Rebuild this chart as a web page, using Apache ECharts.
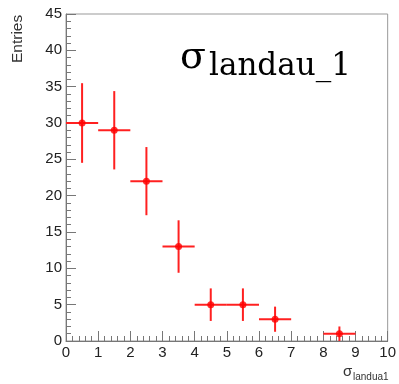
<!DOCTYPE html>
<html><head><meta charset="utf-8">
<script src="https://cdn.jsdelivr.net/npm/echarts@6/dist/echarts.min.js"></script>
<style>html,body{margin:0;padding:0;background:#fff}#c{width:399px;height:384px}</style>
</head><body><div id="c"></div>
<script>
const binCenters = [0.5, 1.5, 2.5, 3.5, 4.5, 5.5, 6.5, 8.5];
const binHalfWidth = [0.5, 0.5, 0.5, 0.5, 0.5, 0.5, 0.5, 0.5];
const counts = [30, 29, 22, 13, 5, 5, 3, 1];
const errors = [5.48, 5.39, 4.69, 3.61, 2.24, 2.24, 1.73, 1.0];

const chart = echarts.init(document.getElementById('c'));
const errData = binCenters.map((x, i) => [x, counts[i], binHalfWidth[i], errors[i]]);
const tickFont = 'Liberation Sans, Arial, sans-serif';
chart.setOption({
  animation: false,
  grid: {left: 66, right: 9, top: 14, bottom: 43, show: true, borderColor: '#999', borderWidth: 1, backgroundColor: 'transparent'},
  xAxis: {
    type: 'value', min: 0, max: 10, interval: 1,
    axisLine: {onZero: false, lineStyle: {color: '#777', width: 1}},
    axisTick: {inside: true, length: 10, lineStyle: {color: '#777'}},
    minorTick: {show: true, splitNumber: 5, length: 5, lineStyle: {color: '#777'}},
    splitLine: {show: false},
    axisLabel: {color: '#222', fontSize: 15, fontFamily: tickFont, margin: 4, showMinLabel: true, showMaxLabel: true}
  },
  yAxis: {
    type: 'value', min: 0, max: 45, interval: 5,
    axisLine: {show: true, lineStyle: {color: '#777', width: 1}},
    axisTick: {inside: true, length: 10, lineStyle: {color: '#777'}},
    minorTick: {show: true, splitNumber: 5, length: 5, lineStyle: {color: '#777'}},
    splitLine: {show: false},
    axisLabel: {color: '#222', fontSize: 15, fontFamily: tickFont, margin: 4}
  },
  graphic: [
    {type: 'text', rotation: Math.PI / 2, style: {text: 'Entries', fontSize: 15.5, fontFamily: tickFont, fill: '#333'}, x: 10, y: 63, originX: 0, originY: 0},
    {type: 'text', x: 343, y: 364, style: {text: 'σ', fontSize: 15, fontFamily: tickFont, fill: '#333'}},
    {type: 'text', x: 353, y: 372, style: {text: 'landua1', fontSize: 10, fontFamily: tickFont, fill: '#333'}},
    {type: 'text', x: 180, y: 39, style: {text: 'σ', fontSize: 38, fontFamily: 'DejaVu Serif, serif', fill: '#000'}},
    {type: 'text', x: 209, y: 51, style: {text: 'landau_1', fontSize: 31, fontFamily: 'DejaVu Serif, serif', fill: '#000'}}
  ],
  series: [
    {
      type: 'custom',
      data: errData,
      renderItem: function (params, api) {
        const x = api.value(0), y = api.value(1), hw = api.value(2), e = api.value(3);
        const l = api.coord([x - hw, y]), r = api.coord([x + hw, y]);
        const t = api.coord([x, y + e]), b = api.coord([x, Math.max(0, y - e)]);
        const st = {stroke: '#ff2020', lineWidth: 2};
        return {type: 'group', children: [
          {type: 'line', shape: {x1: l[0], y1: l[1], x2: r[0], y2: r[1]}, style: st},
          {type: 'line', shape: {x1: t[0], y1: t[1], x2: b[0], y2: b[1]}, style: st}
        ]};
      },
      z: 3
    },
    {
      type: 'scatter',
      data: binCenters.map((x, i) => [x, counts[i]]),
      symbol: 'circle', symbolSize: 7,
      itemStyle: {color: '#ff0000'},
      z: 4
    }
  ]
});
</script></body></html>
